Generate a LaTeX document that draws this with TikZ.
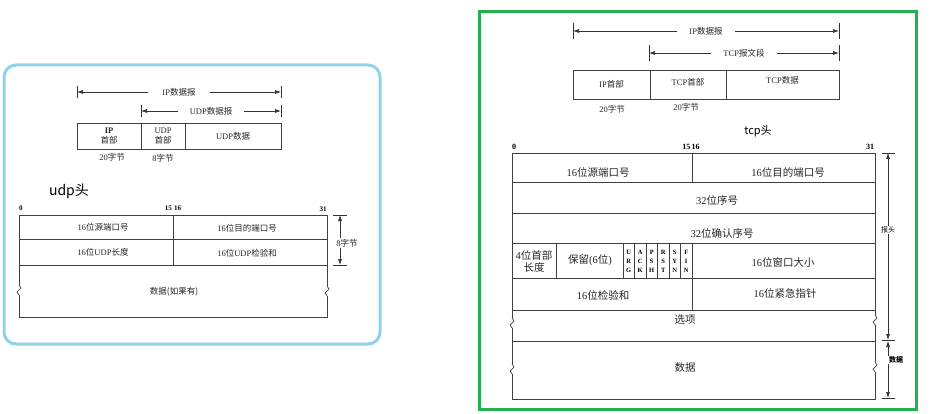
\documentclass[tikz,border=0pt]{standalone}
\usepackage{fontspec}
\setmainfont{Liberation Serif}
\newfontfamily\cjk{Noto Sans CJK SC}
\usepackage{xcolor}
\usetikzlibrary{arrows.meta,positioning,calc}
\definecolor{udpblue}{RGB}{143,211,232}
\definecolor{tcpgreen}{RGB}{34,177,76}
\newcommand{\zh}[1]{{\cjk #1}}

\tikzset{
  frame/.style={line width=0.7pt, draw=black!75},
  cell/.style={frame, draw, inner sep=0pt, align=center},
  dimline/.style={line width=0.6pt, black!80, {Latex[length=6pt,width=4pt]}-{Latex[length=6pt,width=4pt]}},
  dimtick/.style={line width=0.6pt, black!80},
  gaplabel/.style={fill=white, inner ysep=1pt},
  bitno/.style={font=\bfseries\fontsize{7}{8}\selectfont, inner sep=0pt},
  udptext/.style={font=\fontsize{8.5}{9.5}\selectfont, align=center, text=black!85},
  tcptop/.style={font=\fontsize{8.5}{10}\selectfont, align=center, text=black!85},
  tcptext/.style={font=\fontsize{10.5}{12}\selectfont, align=center, text=black!85},
  flagtext/.style={font=\bfseries\fontsize{6.5}{9}\selectfont, align=center, inner sep=0pt},
  brk/.pic={\draw[frame] (0,-5) -- (2,-2) -- (-2,2) -- (0,5);}
}

\begin{document}
\begin{tikzpicture}[x=1pt,y=-1pt]
\useasboundingbox (0,0) rectangle (936,414);

% panel frames
\draw[udpblue, line width=3pt, rounded corners=12pt] (4,65) rectangle (380,344);
\draw[tcpgreen, line width=3pt] (479,12) rectangle (916,409);

% ---------------- UDP ----------------
% datagram spans
\coordinate (uipL) at (77,92);  \coordinate (uipR) at (281,92);
\coordinate (uudL) at (141,111); \coordinate (uudR) at (281,111);
\draw[dimtick] (77,86) -- (77,98) (281,86) -- (281,98)
               (141,105) -- (141,117) (281,105) -- (281,117);
\draw[dimline] (uipL) -- (uipR) node[midway, gaplabel, udptext, inner xsep=14pt] (uiplab) {IP\zh{数据报}};
\draw[dimline] (uudL) -- (uudR) node[midway, gaplabel, udptext, inner xsep=12pt] (uudlab) {UDP\zh{数据报}};

% datagram boxes
\node[cell, udptext, minimum width=64pt, minimum height=26pt] (uiph) at (109,136) {\textbf{IP}\\\zh{首部}};
\node[cell, udptext, minimum width=44pt, minimum height=26pt] (uudh) at (163,136) {UDP\\\zh{首部}};
\node[cell, udptext, minimum width=96pt, minimum height=26pt] (uudd) at (233,136) {UDP\zh{数据}};
\node[udptext] (uipn) at (112,157) {20\zh{字节}};
\node[udptext] (uudn) at (163,158) {8\zh{字节}};

% header title
\node[font=\cjk\fontsize{14}{16}\selectfont] (udphead) at (69,191) {udp头};

% header table
\node[bitno] (u0) at (21,208) {0};
\node[bitno] (u15) at (173,208) {15\,\,16};
\node[bitno] (u31) at (323,209) {31};
\draw[frame] (19,215) rectangle (327,265);
\draw[frame] (19,239) -- (327,239) (173,215) -- (173,265);
\draw[frame] (19,265) -- (19,285) (19,295) -- (19,317) -- (327,317) -- (327,296)
             (327,286) -- (327,265);
\pic at (19,290) {brk};
\pic at (327,291) {brk};

\node[udptext] (usrc) at (103,227) {16\zh{位源端口号}};
\node[udptext] (udst) at (247,228) {16\zh{位目的端口号}};
\node[udptext] (ulen) at (103,252) {16\zh{位}UDP\zh{长度}};
\node[udptext] (usum) at (247,253) {16\zh{位}UDP\zh{检验和}};
\node[udptext] (udat) at (174,292) {\zh{数据(如果有)}};

% 8 byte span
\draw[dimtick] (333,215) -- (347,215) (333,265) -- (347,265);
\draw[dimline] (340,215) -- (340,265);
\node[udptext, gaplabel, inner xsep=1pt] (ubytes) at (347,243) {8\zh{字节}};

% ---------------- TCP ----------------
% segment spans
\coordinate (tipL) at (573,31);  \coordinate (tipR) at (839,31);
\coordinate (tsgL) at (649,53);  \coordinate (tsgR) at (839,53);
\draw[dimtick] (573,23) -- (573,39) (839,23) -- (839,39)
               (649,45) -- (649,61) (839,45) -- (839,61);
\draw[dimline] (tipL) -- (tipR) node[midway, gaplabel, tcptop, inner xsep=12pt] (tiplab) {IP\zh{数据报}};
\draw[dimline] (tsgL) -- (tsgR) node[midway, gaplabel, tcptop, inner xsep=12pt] (tsglab) {TCP\zh{报文段}};

% segment boxes
\node[cell, tcptop, minimum width=77pt, minimum height=29pt] (tiph) at (611.5,84.5) {IP\zh{首部}};
\node[cell, tcptop, minimum width=76pt, minimum height=29pt] (ttch) at (688,84.5) {};
\node[cell, tcptop, minimum width=113pt, minimum height=29pt] (ttcd) at (782.5,84.5) {};
\node[tcptop] (ttchlab) at (688,82) {TCP\zh{首部}};
\node[tcptop] (ttcdlab) at (782.5,80) {TCP\zh{数据}};
\node[tcptop] (tipn) at (612,109) {20\zh{字节}};
\node[tcptop] (ttcn) at (686,107) {20\zh{字节}};

% header title
\node[font=\cjk\fontsize{11}{13}\selectfont] (tcphead) at (758,131) {tcp头};

% header table
\node[bitno, font=\bfseries\fontsize{8}{9}\selectfont] (t0) at (514,147) {0};
\node[bitno, font=\bfseries\fontsize{8}{9}\selectfont] (t15) at (691,147) {15\,16};
\node[bitno, font=\bfseries\fontsize{8}{9}\selectfont] (t31) at (870,147) {31};
\draw[frame] (512,153) rectangle (875,310);
\draw[frame] (512,182) -- (875,182) (512,213) -- (875,213)
             (512,243) -- (875,243) (512,278) -- (875,278);
\draw[frame] (692,153) -- (692,182) (692,243) -- (692,310) (556,243) -- (556,278);
\foreach \k in {0,...,5}
  \draw[frame] (623+11.5*\k,243) -- (623+11.5*\k,278);
\draw[frame] (512,341) -- (875,341);
\draw[frame] (512,310) -- (512,318) (512,328) -- (512,364) (512,374) -- (512,399)
             -- (875,399) -- (875,372) (875,362) -- (875,325) (875,315) -- (875,310);
\pic at (512,323) {brk};
\pic at (512,369) {brk};
\pic at (875,320) {brk};
\pic at (875,367) {brk};

\node[tcptext] (tsrc) at (598,172) {16\zh{位源端口号}};
\node[tcptext] (tdst) at (788,172) {16\zh{位目的端口号}};
\node[tcptext] (tseq) at (717,200) {32\zh{位序号}};
\node[tcptext] (tack) at (722,233) {32\zh{位确认序号}};
\node[tcptext] (thl) at (534,261) {4\zh{位首部}\\\zh{长度}};
\node[tcptext] (tres) at (590,260) {\zh{保留}(6\zh{位})};
\foreach \f [count=\i] in {U\\R\\G, A\\C\\K, P\\S\\H, R\\S\\T, S\\Y\\N, F\\I\\N}
  \node[flagtext] (flag\i) at (623+11.5*\i-5.75,261) {\f};
\node[tcptext] (twin) at (783,262) {16\zh{位窗口大小}};
\node[tcptext] (tsum) at (603,295) {16\zh{位检验和}};
\node[tcptext] (turg) at (785,293) {16\zh{位紧急指针}};
\node[tcptext] (topt) at (685,320) {\zh{选项}};
\node[tcptext] (tdat) at (685,368) {\zh{数据}};

% header / data spans
\draw[dimtick] (882,153) -- (895,153) (882,340) -- (895,340) (882,398) -- (895,398);
\draw[dimline] (888,153) -- (888,340);
\draw[dimline] (888,341) -- (888,398);
\node[gaplabel, font=\cjk\fontsize{7}{8}\selectfont, inner xsep=1pt] (thdr) at (888,230) {报头};
\node[gaplabel, font=\cjk\bfseries\fontsize{7}{8}\selectfont, inner xsep=1pt] (tdsp) at (896,360) {数据};
\end{tikzpicture}
\end{document}
